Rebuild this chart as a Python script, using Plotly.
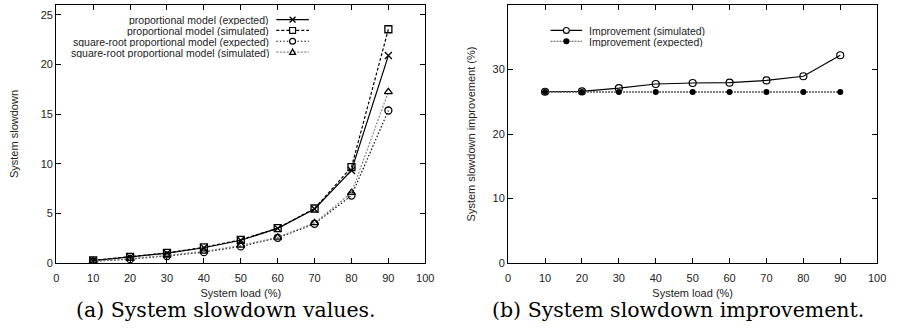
import plotly.graph_objects as go

# ---------------- data ----------------
load = [10, 20, 30, 40, 50, 60, 70, 80, 90]

prop_expected = [0.25, 0.60, 1.00, 1.55, 2.30, 3.50, 5.45, 9.33, 20.9]
prop_simulated = [0.28, 0.62, 1.03, 1.58, 2.35, 3.52, 5.50, 9.66, 23.55]
sqrt_expected = [0.18, 0.40, 0.72, 1.10, 1.68, 2.55, 3.96, 6.80, 15.37]
sqrt_simulated = [0.20, 0.45, 0.78, 1.18, 1.78, 2.60, 4.05, 7.09, 17.25]

impr_simulated = [26.55, 26.6, 27.1, 27.75, 27.9, 27.95, 28.3, 28.95, 32.2]
impr_expected = [26.5, 26.5, 26.5, 26.5, 26.5, 26.5, 26.5, 26.5, 26.5]

left_names = ["proportional model (expected)", "proportional model (simulated)",
              "square-root proportional model (expected)",
              "square-root proportional model (simulated)"]
right_names = ["Improvement (simulated)", "Improvement (expected)"]

x_ticks = [0, 10, 20, 30, 40, 50, 60, 70, 80, 90, 100]
left_y_ticks = [0, 5, 10, 15, 20, 25]
right_y_ticks = [0, 10, 20, 30, 40]

# ---------------- layout helpers ----------------
W, H = 898, 329
def X(px): return px / W
def Y(py): return 1 - py / H

FONT = "Liberation Sans, Arial, sans-serif"
TICKC = "#222"

fig = go.Figure()

styles_left = [
    dict(dash="solid", color="black", symbol="x-thin-open", size=7),
    dict(dash="3px,2px", color="black", symbol="square-open", size=7),
    dict(dash="1.5px,2px", color="#111", symbol="circle-open", size=7),
    dict(dash="2px,1.5px", color="#888", symbol="triangle-up-open", size=7),
]
series_left = [prop_expected, prop_simulated, sqrt_expected, sqrt_simulated]
for name, ys, st in zip(left_names, series_left, styles_left):
    fig.add_trace(go.Scatter(
        x=load, y=ys, name=name, mode="lines+markers",
        line=dict(color=st["color"], dash=st["dash"], width=1.2),
        marker=dict(symbol=st["symbol"], size=st["size"], color="black",
                    line=dict(width=1.3, color="black")),
        xaxis="x", yaxis="y", showlegend=False))

fig.add_trace(go.Scatter(
    x=load, y=impr_simulated, name=right_names[0], mode="lines+markers",
    line=dict(color="black", width=1.2),
    marker=dict(symbol="circle-open", size=7, color="black", line=dict(width=1.2)),
    xaxis="x2", yaxis="y2", showlegend=False))
fig.add_trace(go.Scatter(
    x=load, y=impr_expected, name=right_names[1], mode="lines+markers",
    line=dict(color="#555", width=1.4, dash="2px,1px"),
    marker=dict(symbol="circle", size=6, color="black"),
    xaxis="x2", yaxis="y2", showlegend=False))

ydom = [Y(268), Y(5)]
axis_common = dict(showline=True, linecolor="black", linewidth=1.3, mirror="ticks",
                   ticks="inside", ticklen=5, tickwidth=1, tickcolor="black",
                   showgrid=False, zeroline=False,
                   tickfont=dict(family=FONT, size=11, color=TICKC))
xt = dict(text="System load (%)", standoff=5, font=dict(family=FONT, size=11, color=TICKC))

fig.update_layout(
    width=W, height=H, margin=dict(l=0, r=0, t=0, b=0),
    paper_bgcolor="white", plot_bgcolor="white",
    xaxis=dict(domain=[X(54), X(428)], range=[0, 100], tickvals=x_ticks,
               anchor="y", title=xt, ticklabelstandoff=5, **axis_common),
    yaxis=dict(domain=ydom, range=[0, 26], tickvals=left_y_ticks, anchor="x",
               title=dict(text="System slowdown", standoff=19,
                          font=dict(family=FONT, size=11, color=TICKC)),
               **axis_common),
    xaxis2=dict(domain=[X(512), X(886)], range=[0, 100], tickvals=x_ticks,
                anchor="y2", title=xt, ticklabelstandoff=5, **axis_common),
    yaxis2=dict(domain=ydom, range=[0, 40], tickvals=right_y_ticks, anchor="x2",
                title=dict(text="System slowdown improvement (%)", standoff=14,
                           font=dict(family=FONT, size=11, color=TICKC)),
                **axis_common),
)

shapes = []
annotations = []

def marker_shape(kind, cx, cy, r=3.0):
    if kind == "x-thin-open":
        shapes.append(dict(type="line", xref="paper", yref="paper",
                           x0=X(cx - r), y0=Y(cy - r), x1=X(cx + r), y1=Y(cy + r),
                           line=dict(color="black", width=1.3)))
        shapes.append(dict(type="line", xref="paper", yref="paper",
                           x0=X(cx - r), y0=Y(cy + r), x1=X(cx + r), y1=Y(cy - r),
                           line=dict(color="black", width=1.3)))
    elif kind == "square-open":
        shapes.append(dict(type="rect", xref="paper", yref="paper",
                           x0=X(cx - r), y0=Y(cy + r), x1=X(cx + r), y1=Y(cy - r),
                           line=dict(color="black", width=1.2), fillcolor="white"))
    elif kind in ("circle-open", "circle"):
        shapes.append(dict(type="circle", xref="paper", yref="paper",
                           x0=X(cx - r), y0=Y(cy + r), x1=X(cx + r), y1=Y(cy - r),
                           line=dict(color="black", width=1.2),
                           fillcolor="black" if kind == "circle" else "white"))
    elif kind == "triangle-up-open":
        path = "M {},{} L {},{} L {},{} Z".format(X(cx), Y(cy - r), X(cx - r), Y(cy + r * 0.8),
                                                 X(cx + r), Y(cy + r * 0.8))
        shapes.append(dict(type="path", xref="paper", yref="paper", path=path,
                           line=dict(color="black", width=1.2), fillcolor="white"))

LEG_FONT = dict(family=FONT, size=10.5, color=TICKC)

# left legend: text right-aligned, sample to the right
rows_left = [20, 31, 42, 53]
for name, st, ry in zip(left_names, styles_left, rows_left):
    annotations.append(dict(text=name, xref="paper", yref="paper", x=X(271), y=Y(ry),
                            xanchor="right", yanchor="middle", showarrow=False,
                            height=11, borderpad=0, font=LEG_FONT))
    shapes.append(dict(type="line", xref="paper", yref="paper",
                       x0=X(277), y0=Y(ry), x1=X(310), y1=Y(ry),
                       line=dict(color=st["color"], dash=st["dash"], width=1.2)))
    marker_shape(st["symbol"], 293.5, ry, 3.0)

# right legend: sample left, text right
rows_right = [31, 42]
right_styles = [("solid", "black", "circle-open", 3.0), ("2px,1px", "#555", "circle", 2.5)]
for name, (dash, col, sym, r), ry in zip(right_names, right_styles, rows_right):
    shapes.append(dict(type="line", xref="paper", yref="paper",
                       x0=X(555), y0=Y(ry), x1=X(587), y1=Y(ry),
                       line=dict(color=col, dash=dash, width=1.2)))
    marker_shape(sym, 571, ry, r)
    annotations.append(dict(text=name, xref="paper", yref="paper", x=X(593), y=Y(ry),
                            xanchor="left", yanchor="middle", showarrow=False,
                            height=11, borderpad=0, font=LEG_FONT))

# captions
cap_font = dict(family="DejaVu Serif", size=20.5, color="black")
annotations.append(dict(text="(a) System slowdown values.", xref="paper", yref="paper",
                        x=X(226), y=Y(316), xanchor="center", yanchor="middle",
                        showarrow=False, font=cap_font))
annotations.append(dict(text="(b) System slowdown improvement.", xref="paper", yref="paper",
                        x=X(684), y=Y(316), xanchor="center", yanchor="middle",
                        showarrow=False, font=cap_font))

fig.update_layout(shapes=shapes, annotations=annotations)
fig.write_html("out.html")
